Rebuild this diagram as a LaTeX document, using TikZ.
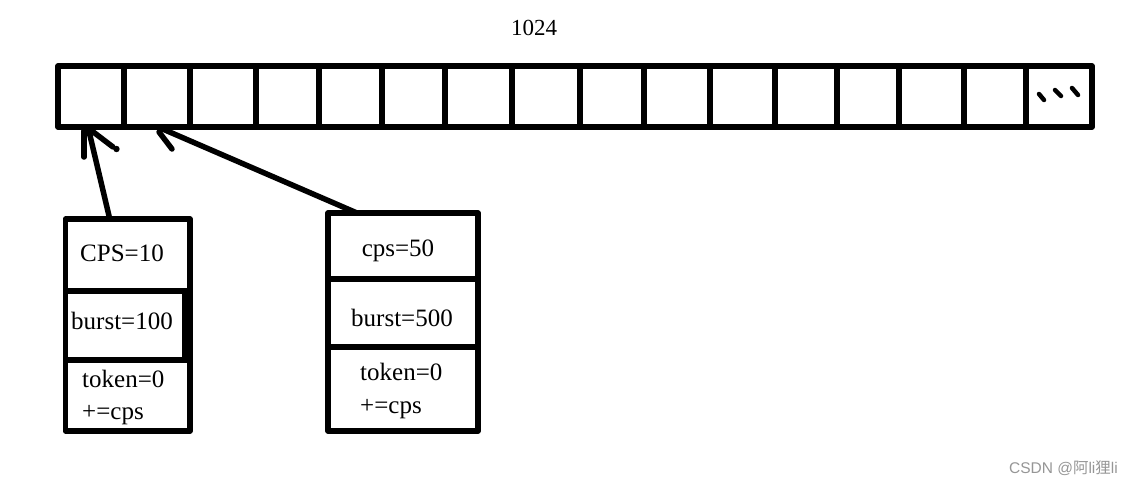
\documentclass[tikz,border=0pt]{standalone}
\usepackage{fontspec}
\setmainfont{Liberation Serif}
\newfontfamily\cjk{Noto Sans CJK SC}
\newfontfamily\wmsans{Liberation Sans}
\usetikzlibrary{calc}
\definecolor{wm}{RGB}{150,150,150}
\begin{document}
\begin{tikzpicture}[x=1pt,y=-1pt,line join=round,
  ink/.style={line width=5.5pt},
  cell/.style={draw,ink,rectangle,inner sep=0pt,outer sep=0pt,minimum height=61pt},
  sect/.style={draw,ink,rectangle,inner sep=0pt,outer sep=0pt},
  lbl/.style={font=\fontsize{25}{30}\selectfont,anchor=base,inner sep=0pt},
  lblw/.style={lbl,anchor=base west},
  stroke/.style={ink,line cap=round}]
\useasboundingbox (0,0) rectangle (1129,485);
% array of cells
\foreach \a/\b [count=\i] in {58/124,124/190,190/256,256/319,319/382,382/445,445/512,512/580,580/644,644/710,710/775,775/837,837/899,899/964,964/1026,1026/1092}{
  \pgfmathsetmacro\w{\b-\a}
  \pgfmathsetmacro\cx{(\a+\b)/2}
  \node[cell,minimum width=\w pt] (c\i) at (\cx,96.5) {};
}
% dots in the last cell
\draw[line width=4.5pt,line cap=round] (1039,94)--(1044,100) (1055,90)--(1061,96) (1072,88)--(1078,95);
\node[lbl,font=\fontsize{23}{28}\selectfont] (n) at (534,35) {1024};
% first box
\node[sect,minimum width=124.5pt,minimum height=72pt] (a1) at (127.75,255) {};
\node[sect,minimum width=124.5pt,minimum height=69pt] (a2) at (127.75,325.5) {};
\node[sect,minimum width=124.5pt,minimum height=71pt] (a3) at (127.75,395.5) {};
\draw[ink] ([xshift=-5pt]a2.north east) -- ([xshift=-5pt]a2.south east);
\node[lbl] (l1) at (122,261) {CPS=10};
\node[lbl] (l2) at (122,329) {burst=100};
\node[lblw] (l3) at (82,387) {token=0};
\node[lblw] (l4) at (82,419) {+=cps};
% second box
\node[sect,minimum width=150pt,minimum height=66pt] (b1) at (403,246) {};
\node[sect,minimum width=150pt,minimum height=68pt] (b2) at (403,313) {};
\node[sect,minimum width=150pt,minimum height=84pt] (b3) at (403,389) {};
\node[lbl] (m1) at (398,256) {cps=50};
\node[lbl] (m2) at (402,326) {burst=500};
\node[lblw] (m3) at (360,380) {token=0};
\node[lblw] (m4) at (360,413) {+=cps};
% arrows
\coordinate (t1) at ([xshift=-3pt]c1.south);
\coordinate (f1) at ([xshift=-18pt]a1.north);
\draw[stroke] (f1) -- (t1);
\draw[stroke] ($(t1)+(-4,4)$) -- ($(t1)+(-4,30)$);
\draw[stroke] ($(t1)+(4,4)$) -- ($(t1)+(25,20)$);
\fill ($(t1)+(28.5,22)$) circle (3.2pt);
\coordinate (t2) at ([xshift=1pt]c2.south);
\coordinate (f2) at ([xshift=-46pt]b1.north);
\draw[stroke] (f2) -- (t2);
\draw[stroke] ($(t2)+(1,5)$) -- ($(t2)+(14,22)$);
% watermark
\node[anchor=base east,font=\wmsans\fontsize{15.5}{18}\selectfont,text=wm,inner sep=0pt] (w) at (1118,473) {CSDN @{\cjk 阿}li{\cjk 狸}li};
\end{tikzpicture}
\end{document}
